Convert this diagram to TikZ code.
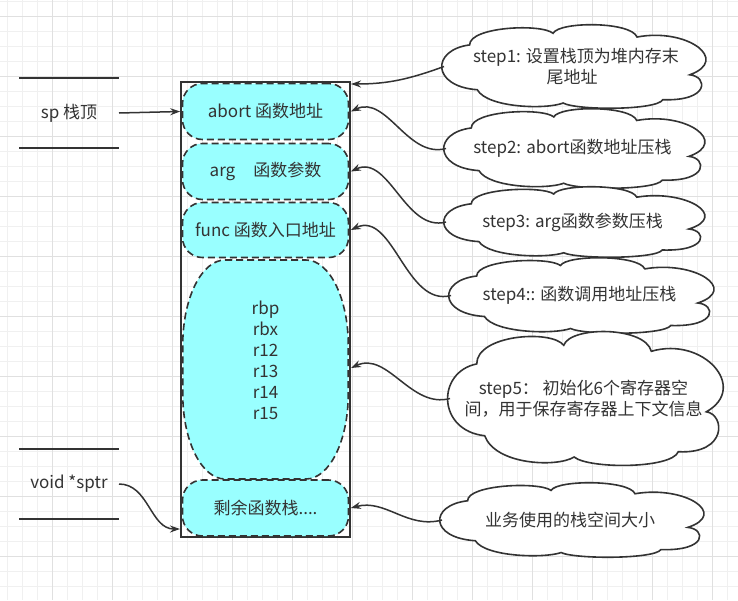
\documentclass[tikz,border=0pt]{standalone}
\usepackage{fontspec}
\setmainfont{Noto Sans CJK SC}
\usetikzlibrary{arrows.meta}
\definecolor{ink}{HTML}{333333}
\definecolor{slotfill}{HTML}{99FFFF}
\definecolor{minorgrid}{HTML}{F0F0F0}
\definecolor{majorgrid}{HTML}{E0E0E0}
\newcommand{\cloudat}[4]{%
  \draw[draw=ink,fill=white,line width=1.6pt,shift={(#1,#2)},xscale=#3,yscale=#4]
    (-0.37,0.28) .. controls (-0.55,0.24) and (-0.55,-0.2) .. (-0.40,-0.26)
    .. controls (-0.40,-0.48) and (-0.12,-0.52) .. (-0.074,-0.40)
    .. controls (-0.05,-0.545) and (0.23,-0.545) .. (0.254,-0.355)
    .. controls (0.45,-0.47) and (0.62,-0.08) .. (0.46,0.10)
    .. controls (0.53,0.12) and (0.54,0.42) .. (0.355,0.40)
    .. controls (0.33,0.53) and (0.02,0.53) .. (-0.035,0.44)
    .. controls (-0.1,0.52) and (-0.33,0.50) .. (-0.37,0.28) -- cycle;}

\begin{document}
\begin{tikzpicture}[x=1pt,y=-1pt,
    every node/.style={text=ink,font=\fontsize{17pt}{21pt}\selectfont,align=center},
    slotline/.style={draw=ink,fill=slotfill,line width=1.6pt,dash pattern=on 7pt off 4pt},
    slot/.style={slotline,rounded corners=20pt,minimum width=166pt,inner sep=0pt},
    marker/.style={minimum width=100pt,minimum height=70pt,inner sep=0pt,outer sep=0pt},
    note/.style={inner sep=0pt,outer sep=0pt},
    link/.style={draw=ink,line width=1.5pt,-{Stealth[length=10pt,width=7pt]}}]
  \useasboundingbox (0,0) rectangle (738,600);
  \fill[white] (0,0) rectangle (738,600);
  \foreach \x in {7,22,...,737} \draw[minorgrid,line width=1pt] (\x,0) -- (\x,600);
  \foreach \y in {1,16,...,600} \draw[minorgrid,line width=1pt] (0,\y) -- (738,\y);
  \foreach \x in {52,112,...,737} \draw[majorgrid,line width=1pt] (\x,0) -- (\x,600);
  \foreach \y in {16,76,...,600} \draw[majorgrid,line width=1pt] (0,\y) -- (738,\y);

  \node[draw=ink,line width=1.6pt,minimum width=169pt,minimum height=455pt,inner sep=0pt]
    (frame) at (265.5,309.5) {};
  \node[slot,minimum height=56pt] (abort) at (265.5,111.5) {abort 函数地址};
  \node[slot,minimum height=56pt] (arg) at (265.5,171.5) {arg\hspace{18pt}函数参数};
  \node[slot,minimum height=55pt] (func) at (265.5,230) {func 函数入口地址};
  \draw[slotline] (225,260) -- (306,260)
    .. controls (329.3,260) and (348.25,298) .. (348.25,345) -- (348.25,394)
    .. controls (348.25,441) and (329.3,479) .. (306,479) -- (225,479)
    .. controls (201.7,479) and (182.75,441) .. (182.75,394) -- (182.75,345)
    .. controls (182.75,298) and (201.7,260) .. (225,260) -- cycle;
  \node (regs) at (265.5,360) {rbp\\rbx\\r12\\r13\\r14\\r15};
  \node[slot,minimum height=56pt] (rest) at (265.5,508) {剩余函数栈....};

  \node[marker] (sp) at (69,113) {sp 栈顶};
  \draw[ink,line width=1.6pt] (sp.north west) -- (sp.north east) (sp.south west) -- (sp.south east);
  \node[marker] (sptr) at (69,484) {void *sptr};
  \draw[ink,line width=1.6pt] (sptr.north west) -- (sptr.north east) (sptr.south west) -- (sptr.south east);

  \cloudat{572}{66.5}{256}{83}
  \node[note,minimum width=256pt,minimum height=83pt] (step1) at (572,66.5)
    {\hspace*{8pt}step1: 设置栈顶为堆内存末\\尾地址};
  \cloudat{572.5}{148.5}{253}{79}
  \node[note,minimum width=253pt,minimum height=79pt] (step2) at (572.5,148.5)
    {step2: abort函数地址压栈};
  \cloudat{572.5}{222}{253}{70}
  \node[note,minimum width=253pt,minimum height=70pt] (step3) at (572.5,222)
    {step3: arg函数参数压栈};
  \cloudat{579.5}{295.5}{257}{75}
  \node[note,minimum width=257pt,minimum height=75pt] (step4) at (579.5,295.5)
    {step4:: 函数调用地址压栈};
  \cloudat{583.5}{398.5}{267}{133}
  \node[note,minimum width=267pt,minimum height=133pt] (step5) at (583.5,398.5)
    {step5： 初始化6个寄存器空\\间，用于保存寄存器上下文信息};
  \cloudat{570}{520}{256}{74}
  \node[note,minimum width=256pt,minimum height=74pt] (usage) at (570,520)
    {业务使用的栈空间大小};

  \coordinate (topin) at (351,84);
  \coordinate (regsin) at (351,368);
  \coordinate (sptrin) at (180,529);
  \draw[link] (sp.east) -- (frame.west |- abort.west);
  \draw[link] (sptr.east) to[out=0,in=180] (sptrin);
  \draw[link] (step1.west) to[out=200,in=0] (topin);
  \draw[link] (step2.west) to[out=195,in=25] (frame.east |- abort.east);
  \draw[link] (step3.west) to[out=195,in=25] (frame.east |- arg.east);
  \draw[link] (step4.west) to[out=195,in=25] (frame.east |- func.east);
  \draw[link] (step5.west) to[out=195,in=25] (regsin);
  \draw[link] (usage.west) to[out=195,in=15] (frame.east |- rest.east);
\end{tikzpicture}
\end{document}
